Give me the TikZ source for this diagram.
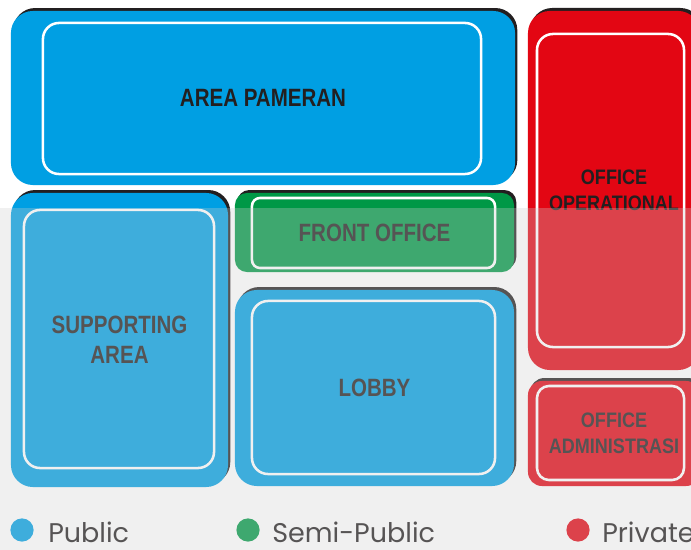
\documentclass[tikz,border=0pt]{standalone}
\usepackage{fontspec}
\usepackage{xcolor}
\usepackage{tikz}
\usetikzlibrary{shadows}
\newfontfamily\zonefont[FakeStretch=0.82]{Liberation Sans}
\newfontfamily\officefont[FakeStretch=0.86]{Liberation Sans}
\newfontfamily\legendfont{Poppins}
\definecolor{pubblue}{HTML}{009FE3}
\definecolor{semigreen}{HTML}{009846}
\definecolor{privred}{HTML}{E30613}
\definecolor{inkdark}{HTML}{231F20}
\definecolor{haze}{HTML}{CFCFCF}

\begin{document}
\begin{tikzpicture}[
    x=0.025cm, y=-0.025cm,
    zone/.style={rectangle, rounded corners=0.55cm, inner sep=0pt,
                 font=\zonefont\bfseries\fontsize{17.8}{21}\selectfont,
                 text=inkdark, align=center,
                 general shadow={fill=inkdark, shadow xshift=1.6pt, shadow yshift=2.1pt}},
    rim/.style={rectangle, rounded corners=0.4cm, draw=white, line width=1.8pt, inner sep=0pt},
    dot/.style={circle, minimum size=0.58cm, inner sep=0pt},
    key/.style={anchor=base west, inner sep=0pt,
                font=\legendfont\fontsize{19.2}{22}\selectfont, text=inkdark},
]
\useasboundingbox (0,0) rectangle (691,550);
\fill[white] (0,0) rectangle (691,550);

% Zones
\node[zone, fill=pubblue, minimum width=12.6cm, minimum height=4.35cm] (pameran) at (263,98) {AREA PAMERAN};
\node[rim, minimum width=10.95cm, minimum height=3.775cm] (pameranrim) at (262,98.5) {};

\node[zone, fill=privred, minimum width=4.3cm, minimum height=8.975cm,
      font=\officefont\bfseries\fontsize{14.9}{18.5}\selectfont] (operasional) at (614,190.5) {OFFICE\\OPERATIONAL};
\node[rim, minimum width=3.675cm, minimum height=7.825cm] (operasionalrim) at (610.5,190.5) {};

\node[zone, fill=pubblue, minimum width=5.425cm, minimum height=7.35cm] (supporting) at (119.5,340) {SUPPORTING\\AREA};
\node[rim, minimum width=4.75cm, minimum height=6.45cm] (supportingrim) at (119,339) {};

\node[zone, fill=semigreen, rounded corners=0.3cm, minimum width=6.975cm, minimum height=1.975cm] (front) at (374.5,232.5) {FRONT OFFICE};
\node[rim, rounded corners=0.2cm, minimum width=6.075cm, minimum height=1.75cm] (frontrim) at (373.5,233) {};

\node[zone, fill=pubblue, minimum width=6.975cm, minimum height=4.9cm] (lobby) at (374.5,388) {LOBBY};
\node[rim, minimum width=6.075cm, minimum height=4.325cm] (lobbyrim) at (373.5,387.5) {};

\node[zone, fill=privred, rounded corners=0.35cm, minimum width=4.3cm, minimum height=2.625cm,
      font=\officefont\bfseries\fontsize{14.9}{18.5}\selectfont] (admin) at (614,433.5) {OFFICE\\ADMINISTRASI};
\node[rim, rounded corners=0.3cm, minimum width=3.675cm, minimum height=2.35cm] (adminrim) at (610.5,433) {};

% Legend
\node[dot, fill=pubblue] (dpub) at (22,530) {};
\node[key] (lpub) at (48,542) {Public};
\node[dot, fill=semigreen] (dsemi) at (248,530) {};
\node[key] (lsemi) at (272,542) {Semi-Public};
\node[dot, fill=privred] (dpriv) at (578,530) {};
\node[key] (lpriv) at (602,542) {Private};

% Haze over the lower part
\fill[haze, opacity=0.3] (0,208) rectangle (691,550);
\end{tikzpicture}
\end{document}
